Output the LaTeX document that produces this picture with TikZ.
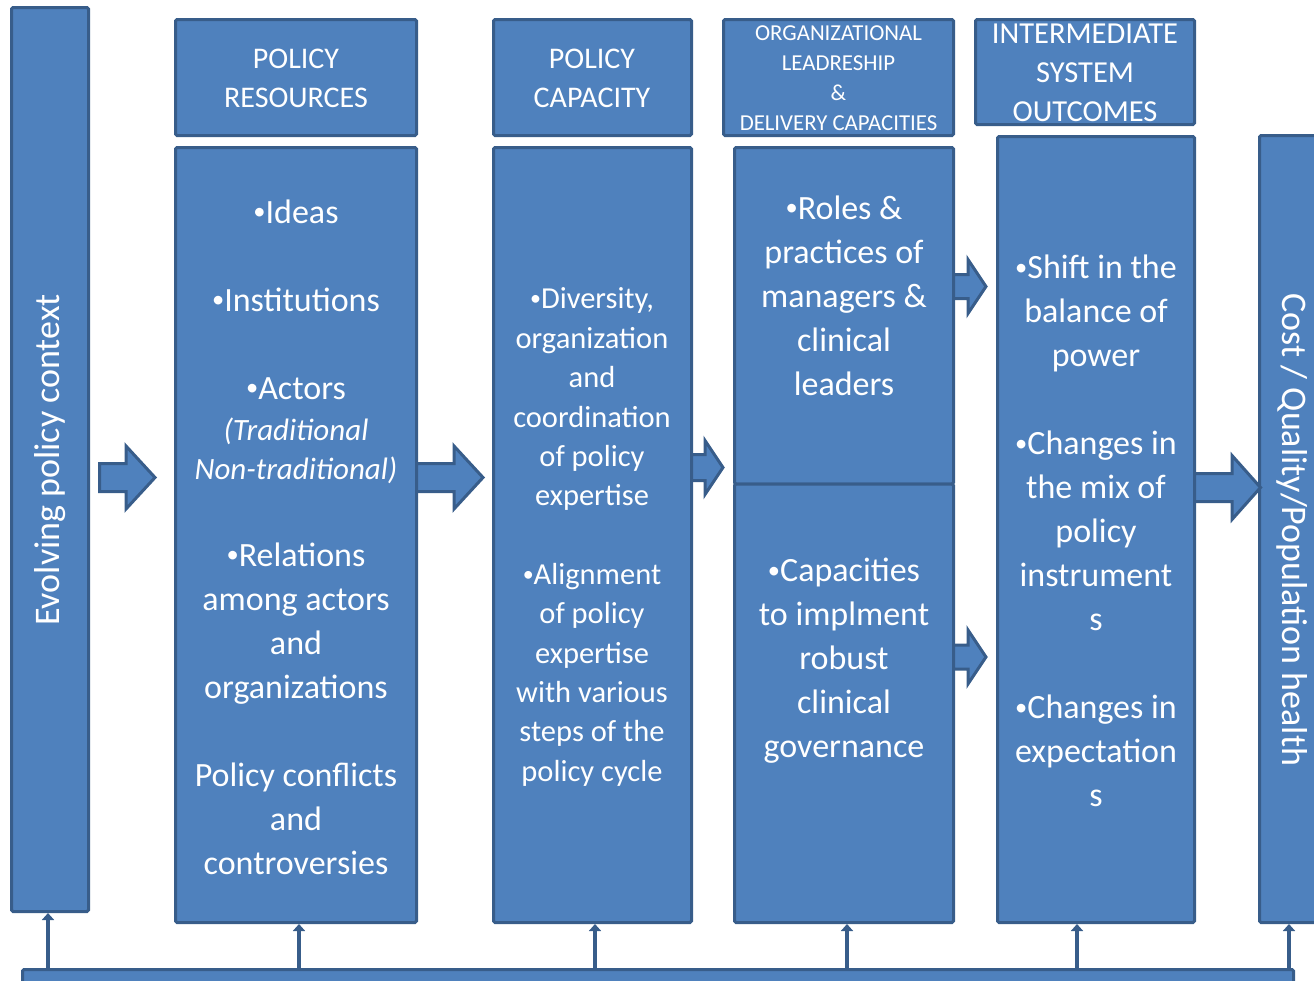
\documentclass[tikz,border=0pt]{standalone}
\usepackage{fontspec}
\setmainfont{Carlito}
\usetikzlibrary{arrows.meta,fit}
\definecolor{boxfill}{HTML}{4F81BD}
\definecolor{boxline}{HTML}{385D8A}

% block arrow: start x, head base x, tip x, centre y, half shaft, half head
\newcommand{\blockarrow}[6]{%
  \path[fatarrow] (#1,#4-#5) -- (#2,#4-#5) -- (#2,#4-#6) -- (#3,#4)
    -- (#2,#4+#6) -- (#2,#4+#5) -- (#1,#4+#5) -- cycle;}
% small list bullet
\newcommand{\bul}{\raisebox{0.1em}{\scalebox{0.72}{\textbullet}}}

\begin{document}
\begin{tikzpicture}[x=1pt,y=-1pt,
  panel/.style={draw=boxline, fill=boxfill, line width=3pt, inner sep=0pt,
    rounded corners=1.5pt},
  fatarrow/.style={draw=boxline, fill=boxfill, line width=3pt, line join=miter},
  feed/.style={draw=boxline, line width=4.5pt,
    -{Triangle[length=7pt,width=12pt]}},
  label/.style={text=white, align=center, inner sep=0pt},
  head/.style={label, font=\fontsize{30}{39}\selectfont},
  body/.style={label, font=\fontsize{34}{44}\selectfont},
  narrow/.style={label, font=\fontsize{30.5}{39.4}\selectfont},
  side/.style={label, font=\fontsize{36}{44}\selectfont}]
\useasboundingbox (0,0) rectangle (1314,980);

% panels
\node[panel, fit={(11.5,7.5) (88.5,911.5)}] (ctx) {};
\node[panel, fit={(175.5,19.5) (416.5,135.5)}] (hres) {};
\node[panel, fit={(175.5,147.5) (416.5,922.5)}] (bres) {};
\node[panel, fit={(493.5,19.5) (691.5,135.5)}] (hcap) {};
\node[panel, fit={(493.5,147.5) (691.5,922.5)}] (bcap) {};
\node[panel, fit={(723.5,19.5) (953.5,135.5)}] (hlead) {};
\node[panel, fit={(734.5,147.5) (953.5,484)}] (blead1) {};
\node[panel, fit={(734.5,484) (953.5,922.5)}] (blead2) {};
\node[panel, fit={(975.5,19.5) (1194.5,124.5)}] (hout) {};
\node[panel, fit={(997.5,136.5) (1194.5,922.5)}] (bout) {};
\node[panel, fit={(1259.5,135.5) (1340,922.5)}] (effect) {};
\node[panel, fit={(22.5,969.5) (1293.5,1000)}] (bar) {};

% block arrows between columns
\blockarrow{99.5}{126}{155}{477.5}{14}{31.5}
\blockarrow{416.5}{454}{483}{477.5}{14}{31.5}
\blockarrow{691.5}{705}{723}{467.5}{13}{27}
\blockarrow{953.5}{968}{986}{286.5}{12}{27}
\blockarrow{953.5}{968}{986}{657}{12}{27}
\blockarrow{1194.5}{1232}{1260.5}{487.5}{14}{32}

% feedback from the bottom bar
\draw[feed] (48,0 |- bar.north) -- (48,0 |- ctx.south);
\draw[feed] (299,0 |- bar.north) -- (299,0 |- bres.south);
\draw[feed] (595,0 |- bar.north) -- (595,0 |- bcap.south);
\draw[feed] (847,0 |- bar.north) -- (847,0 |- blead2.south);
\draw[feed] (1077,0 |- bar.north) -- (1077,0 |- bout.south);
\draw[feed] (1289,0 |- bar.north) -- (1289,0 |- effect.south);

% texts
\node[side, rotate=90] (tctx) at (50,460) {Evolving policy context};
\node[side, rotate=-90] (teff) at (1292,530) {Cost / Quality/Population health};

\node[head] (thres) at (296,78.5) {POLICY\\RESOURCES};
\node[head] (thcap) at (592,78.5) {POLICY\\CAPACITY};
\node[label, font=\fontsize{22.8}{30}\selectfont] (thlead) at (838.5,78.5)
  {ORGANIZATIONAL\\LEADRESHIP\\\&\\DELIVERY CAPACITIES};
\node[label, font=\fontsize{30.5}{39}\selectfont] (thout) at (1085,73)
  {INTERMEDIATE\\SYSTEM\\OUTCOMES};

\node[body] (tres) at (296,537)
  {\bul Ideas\\[44pt]
   \bul Institutions\\[44pt]
   \bul Actors\\[-3pt]
   {\fontsize{31}{39}\selectfont\itshape (Traditional}\\[-5pt]
   {\fontsize{31}{39}\selectfont\itshape Non-traditional)}\\[43pt]
   \bul Relations\\among actors\\and\\organizations\\[44pt]
   Policy conflicts\\and\\controversies};

\node[narrow] (tcap) at (592,537)
  {\bul Diversity,\\organization\\and\\coordination\\of policy\\expertise\\[39pt]
   \bul Alignment\\of policy\\expertise\\with various\\steps of the\\policy cycle};

\node[body] (tlead1) at (844,295.5)
  {\bul Roles \&\\practices of\\managers \&\\clinical\\leaders};
\node[body] (tlead2) at (844,661)
  {\bul Capacities\\to implment\\robust\\clinical\\governance};

\node[body] (tout) at (1096,531)
  {\bul Shift in the\\balance of\\power\\[44pt]
   \bul Changes in\\the mix of\\policy\\instrument\\s\\[44pt]
   \bul Changes in\\expectation\\s};
\end{tikzpicture}
\end{document}
